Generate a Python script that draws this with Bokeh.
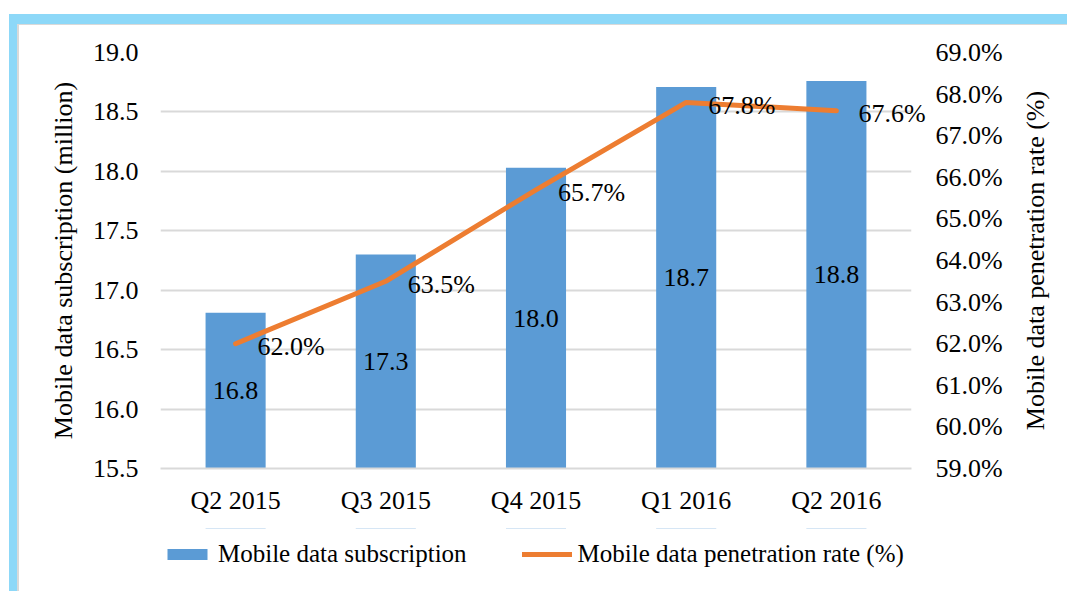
import math
from bokeh.plotting import figure
from bokeh.models import (ColumnDataSource, Range1d, LinearAxis, FactorRange, Legend, LegendItem,
                          FixedTicker, PrintfTickFormatter, Div)
from bokeh.layouts import column
from bokeh.core.properties import value
from bokeh.embed import file_html
from bokeh.resources import INLINE

# ---- data ----
quarters = ["Q2 2015", "Q3 2015", "Q4 2015", "Q1 2016", "Q2 2016"]
subscriptions = [16.81, 17.30, 18.03, 18.71, 18.76]          # million
penetration = [62.0, 63.5, 65.7, 67.8, 67.6]                # percent
sub_labels = ["16.8", "17.3", "18.0", "18.7", "18.8"]
pen_labels = ["62.0%", "63.5%", "65.7%", "67.8%", "67.6%"]
left_ticks = [15.5, 16.0, 16.5, 17.0, 17.5, 18.0, 18.5, 19.0]
right_ticks = [59, 60, 61, 62, 63, 64, 65, 66, 67, 68, 69]
left_title = "Mobile data subscription (million)"
right_title = "Mobile data penetration rate (%)"
series_names = ["Mobile data subscription", "Mobile data penetration rate (%)"]

Y_MIN, Y_MAX = 15.5, 19.0
P_MIN, P_MAX = 59.0, 69.0

FONT = "Liberation Serif"
FS = "26px"
BAR = "#5B9BD5"
LINE = "#ED7D31"
GRID = "#D9D9D9"
BLUE = "#8DD8F8"

src = ColumnDataSource(dict(
    q=quarters, sub=subscriptions, pen=penetration,
    sub_mid=[(v + Y_MIN) / 2 for v in subscriptions],
    sub_lab=sub_labels, pen_lab=pen_labels,
))

p = figure(x_range=FactorRange(*quarters, range_padding=0), y_range=Range1d(Y_MIN, Y_MAX),
           frame_width=751, frame_height=416,
           min_border_left=160, min_border_right=156, min_border_top=52, min_border_bottom=60,
           output_backend="svg", toolbar_location=None,
           background_fill_color="white", border_fill_color=None)
p.outline_line_color = None
p.extra_y_ranges = {"pct": Range1d(P_MIN, P_MAX)}

bars = p.vbar(x="q", top="sub", bottom=Y_MIN, width=0.4, source=src,
              fill_color=BAR, line_color=None)
line = p.line(x="q", y="pen", source=src, y_range_name="pct",
              line_color=LINE, line_width=5, line_cap="round", line_join="round")

p.text(x="q", y="sub_mid", text="sub_lab", source=src, text_font=value(FONT),
       text_font_size=FS, text_align="center", text_baseline="middle", text_color="black")
p.text(x="q", y="pen", text="pen_lab", source=src, y_range_name="pct", text_font=value(FONT),
       text_font_size=FS, text_align="left", text_baseline="middle", text_color="black",
       x_offset=22, y_offset=3, level="overlay")

# grid
p.xgrid.grid_line_color = None
p.ygrid.grid_line_color = GRID
p.ygrid.grid_line_width = 2
p.ygrid.ticker = FixedTicker(ticks=left_ticks)

def style_axis(ax):
    ax.major_label_text_font = FONT
    ax.major_label_text_font_size = FS
    ax.major_label_text_color = "black"
    ax.axis_label_text_font = FONT
    ax.axis_label_text_font_size = FS
    ax.axis_label_text_font_style = "normal"
    ax.axis_label_text_color = "black"
    ax.major_tick_line_color = None
    ax.minor_tick_line_color = None
    ax.major_tick_out = 0
    ax.major_tick_in = 0

# left axis
ly = p.yaxis[0]
style_axis(ly)
ly.ticker = FixedTicker(ticks=left_ticks)
ly.formatter = PrintfTickFormatter(format="%.1f")
ly.axis_line_color = None
ly.axis_label = left_title
ly.major_label_standoff = 22
ly.axis_label_standoff = 12

# right axis (title drawn as unclipped text so it reads bottom-to-top like the original)
ry = LinearAxis(y_range_name="pct", ticker=FixedTicker(ticks=right_ticks),
                formatter=PrintfTickFormatter(format="%.1f%%"))
style_axis(ry)
ry.axis_line_color = None
ry.major_label_standoff = 24
p.add_layout(ry, "right")
p.text(x=[quarters[-1]], y=[(P_MIN + P_MAX) / 2], text=[right_title],
       y_range_name="pct", angle=math.pi / 2, x_offset=199,
       text_font=value(FONT), text_font_size=FS, text_align="center",
       text_baseline="middle", text_color="black", level="overlay")

# bottom axis
bx = p.xaxis[0]
style_axis(bx)
bx.axis_line_color = GRID
bx.axis_line_width = 2
bx.major_label_standoff = 17

# ---- legend strip below the chart (proxy renderers share the chart's data and styles,
#      but fall outside this strip's visible range, so only the legend shows) ----
lf = figure(width=1067, height=50, x_range=FactorRange(*quarters, range_padding=0),
            y_range=Range1d(0, 1), min_border=0, x_axis_location=None, y_axis_location=None,
            output_backend="svg", toolbar_location=None,
            background_fill_color=None, border_fill_color=None)
lf.outline_line_color = None
lf.xgrid.visible = False
lf.ygrid.visible = False
lg_bar = lf.vbar(x="q", top="sub", bottom=Y_MIN, width=0.4, source=src,
                 fill_color=BAR, line_color=None)
lg_line = lf.line(x="q", y="pen", source=src, line_color=LINE, line_width=5, line_cap="round")

legend = Legend(items=[LegendItem(label=series_names[0], renderers=[lg_bar]),
                       LegendItem(label=series_names[1], renderers=[lg_line])],
                orientation="horizontal", location=(2, 10),
                label_text_font=FONT, label_text_font_size="25px", label_text_color="black",
                glyph_width=50, glyph_height=14, label_standoff=6, spacing=55,
                background_fill_alpha=0, border_line_color=None, padding=0, margin=0)
lf.add_layout(legend, "center")

# light-blue frame of the original graphic (fixed to the page corner)
frame_html = (
    f'<div style="position:fixed;left:9px;top:14px;width:1058px;height:10px;background:{BLUE}"></div>'
    f'<div style="position:fixed;left:9px;top:14px;width:8px;height:577px;background:{BLUE}"></div>'
    f'<div style="position:fixed;left:17px;top:24px;width:1050px;height:1px;background:{GRID}"></div>'
    f'<div style="position:fixed;left:17px;top:24px;width:2px;height:567px;background:{GRID}"></div>'
)
deco = Div(text=frame_html, width=1, height=1, margin=0)

layout = column(p, lf, deco, spacing=0)
open("out.html", "w").write(file_html(layout, INLINE))
